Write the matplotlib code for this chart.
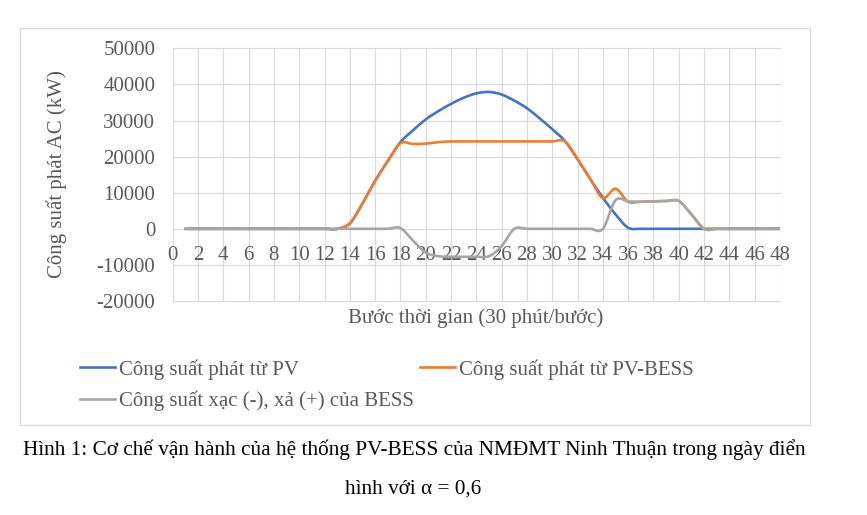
import matplotlib
matplotlib.use("Agg")
import matplotlib.pyplot as plt
from matplotlib.path import Path
from matplotlib.patches import PathPatch, Rectangle
from matplotlib.lines import Line2D
import numpy as np

plt.rcParams['font.family'] = ['Liberation Serif', 'DejaVu Serif']
plt.rcParams['axes.unicode_minus'] = False

# ---------------- data ----------------
steps = list(range(1, 49))
pv = [0]*13 + [1500, 7000, 13300, 18800, 24000, 27300, 30300, 32600, 34600, 36300,
               37500, 37900, 37200, 35500, 33400, 30600, 27600, 24300, 19300, 13800,
               8600, 4000, 300] + [0]*12
pv_bess = [0]*13 + [1500, 7000, 13300, 18700, 23700, 23500, 23600, 24000, 24200, 24200,
                    24200, 24200, 24200, 24200, 24200, 24200, 24200, 24200, 19300, 13800,
                    8500, 11100, 7500, 7500, 7600, 7700, 7700, 4000, 0] + [0]*6
bess = [0]*17 + [200, -3300, -6600, -7600, -7750, -7750, -7750, -7600, -4800, 0,
                 0, 0, 0, 0, 0, 0, 0, 7900, 7600, 7500, 7600, 7700, 7700, 4000, 0] + [0]*6

labels = ["Công suất phát từ PV", "Công suất phát từ PV-BESS",
          "Công suất xạc (-), xả (+) của BESS"]
colors = ["#4472C4", "#ED7D31", "#A5A5A5"]
xlabel = "Bước thời gian (30 phút/bước)"
ylabel = "Công suất phát AC (kW)"
caption1 = "Hình 1: Cơ chế vận hành của hệ thống PV-BESS của NMĐMT Ninh Thuận trong ngày điển"
caption2 = "hình với α = 0,6"
xticks = list(range(0, 49, 2))
yticks = list(range(-20000, 50001, 10000))

TXT = "#595959"
FS = 15

W, H = 867, 515
fig = plt.figure(figsize=(W/100, H/100), dpi=100)

# chart frame
fig.patches.append(Rectangle((20/W, 1-425/H), 790/W, 397/H, transform=fig.transFigure,
                             fill=False, edgecolor="#d9d9d9", lw=0.9))

L, R, T, B = 172.7, 780.0, 48.3, 301.0
ax = fig.add_axes([L/W, 1-B/H, (R-L)/W, (B-T)/H])
ax.set_xlim(0, 48)
ax.set_ylim(-20000, 50000)
ax.set_xticks(xticks)
ax.set_yticks(yticks)
ax.grid(True, color="#d9d9d9", lw=0.8)
ax.set_axisbelow(True)
for gl in ax.get_xgridlines() + ax.get_ygridlines():
    gl.set_clip_on(False)
for s in ax.spines.values():
    s.set_visible(False)
ax.spines['bottom'].set_position(('data', 0))
ax.tick_params(axis='both', length=0, labelsize=FS, labelcolor=TXT)
ax.tick_params(axis='x', pad=12.5)
ax.tick_params(axis='y', pad=12.5)


def smooth_path(xs, ys):
    p = np.column_stack([xs, ys]).astype(float)
    n = len(p)
    verts = [p[0]]
    codes = [Path.MOVETO]
    for i in range(n-1):
        pm = p[i-1] if i > 0 else p[i]
        pn2 = p[i+2] if i+2 < n else p[i+1]
        c1 = p[i] + (p[i+1]-pm)/6.0
        c2 = p[i+1] - (pn2-p[i])/6.0
        verts += [c1, c2, p[i+1]]
        codes += [Path.CURVE4]*3
    return Path(verts, codes)


for ys, c in zip([pv, pv_bess, bess], colors):
    ax.add_patch(PathPatch(smooth_path(steps, ys), facecolor='none', edgecolor=c,
                           lw=1.9, capstyle='round', joinstyle='round'))

fig.text(57/W, 1-174/H, ylabel, rotation=90, ha='center', va='center',
         fontsize=FS, color=TXT)
fig.text(476/W, 1-318/H, xlabel, ha='center', va='center', fontsize=FS, color=TXT)

handles = [Line2D([], [], color=c, lw=1.9) for c in colors]
order = [0, 2, 1]
fig.legend([handles[i] for i in order], [labels[i] for i in order], ncol=2,
           loc='upper left', bbox_to_anchor=(80/W, 1-359/H), frameon=False,
           fontsize=FS, labelcolor=TXT, handlelength=1.68, handletextpad=0.2,
           columnspacing=0.3, labelspacing=0.55, borderpad=0, borderaxespad=0)

fig.text(414.5/W, 1-450/H, caption1, ha='center', va='center', fontsize=15.3, color='black')
fig.text(413/W, 1-489/H, caption2, ha='center', va='center', fontsize=15.3, color='black')

fig.savefig("out.png", dpi=100)
